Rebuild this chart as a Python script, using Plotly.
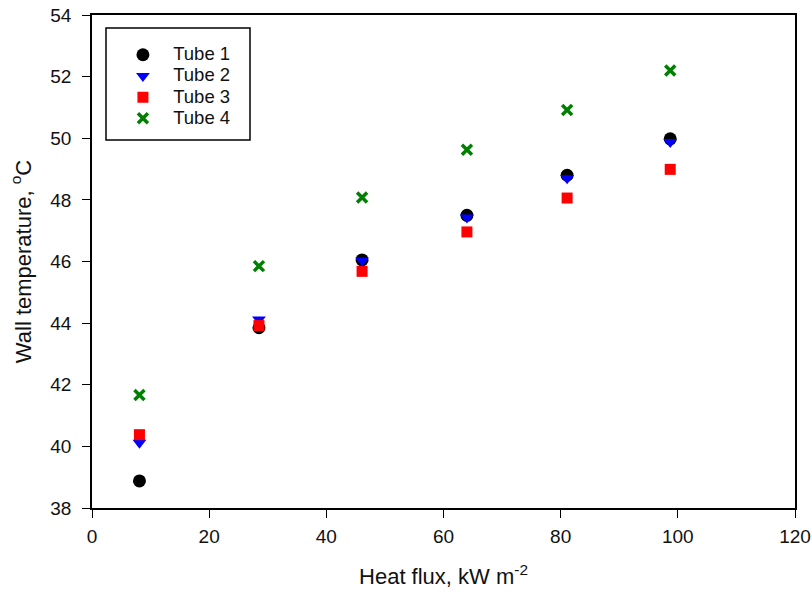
import plotly.graph_objects as go

heat_flux = [8.1, 28.5, 46.1, 64.0, 81.1, 98.7]
tube1 = [38.88, 43.85, 46.05, 47.50, 48.80, 49.98]
tube2 = [40.12, 44.12, 46.03, 47.43, 48.70, 49.88]
tube3 = [40.38, 43.92, 45.68, 46.96, 48.06, 48.99]
tube4 = [41.67, 45.85, 48.08, 49.63, 50.92, 52.20]

series = [
    ("Tube 1", tube1, "circle", "black", 13),
    ("Tube 2", tube2, "triangle-down", "blue", 12),
    ("Tube 3", tube3, "square", "red", 11),
    ("Tube 4", tube4, "x-thin", "green", 10),
]

FONT = "Liberation Sans, Arial"

fig = go.Figure()
for i, (name, ys, sym, col, sz) in enumerate(series):
    marker = dict(symbol=sym, color=col, size=sz, line=dict(width=0))
    if sym == "x-thin":
        marker = dict(symbol=sym, color=col, size=sz, line=dict(width=3.5, color=col))
    fig.add_trace(go.Scatter(
        x=heat_flux, y=ys, mode="markers",
        name="<span style='font-size:18.5px'>\u00a0\u00a0" + name + "</span>",
        marker=marker,
    ))

axis_common = dict(
    showline=True, linecolor="black", linewidth=1.5, mirror=True,
    ticks="outside", ticklen=8, tickwidth=1.2, tickcolor="black",
    showgrid=False, zeroline=False, automargin=False,
    tickfont=dict(family=FONT, size=19, color="#111"),
)

fig.update_layout(
    width=812, height=595,
    margin=dict(l=92, r=17, t=15, b=87),
    paper_bgcolor="white", plot_bgcolor="white",
    xaxis=dict(range=[0, 120], dtick=20, **axis_common, ticklabelstandoff=2,
               title=dict(text="Heat flux, kW m<sup>-2</sup>",
                          font=dict(family=FONT, size=22, color="#111"),
                          standoff=23)),
    yaxis=dict(range=[38, 54], dtick=2, **axis_common, ticklabelstandoff=7,
               title=dict(text="Wall temperature, <sup>o</sup>C",
                          font=dict(family=FONT, size=22, color="#111"),
                          standoff=13)),
    legend=dict(x=0.044, y=0.951, xanchor="left", yanchor="top",
                bgcolor="rgba(0,0,0,0)", borderwidth=0,
                font=dict(family=FONT, size=14, color="#111")),
    shapes=[dict(type="rect", xref="paper", yref="paper",
                 x0=(106 - 92) / 703, x1=(250 - 92) / 703,
                 y0=1 - (140 - 15) / 493, y1=1 - (28 - 15) / 493,
                 line=dict(color="black", width=1.5), fillcolor="rgba(0,0,0,0)")],
)

fig.write_html("out.html")
